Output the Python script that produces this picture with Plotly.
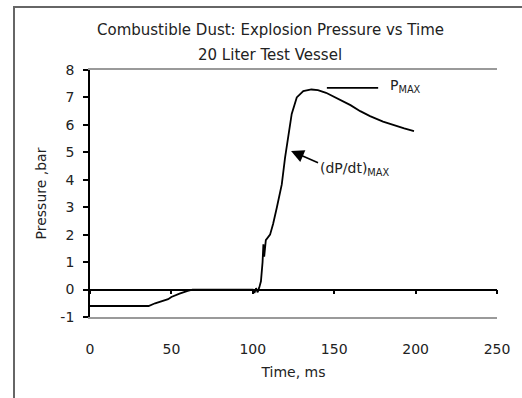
import plotly.graph_objects as go

# ---- data ----
time_ms = [0, 36, 40, 45, 48, 50, 52, 55, 60, 63, 100, 101, 102, 103, 104, 105,
           106, 106.5, 107, 108, 110.6, 112.5, 114.7, 117.8, 119.8, 121.8, 123.9,
           127, 131, 136, 140, 145, 150, 155, 160, 166, 172, 180, 186, 193, 199]
pressure_bar = [-0.6, -0.6, -0.5, -0.42, -0.35, -0.27, -0.22, -0.15, -0.05, 0, 0,
                -0.12, 0.05, -0.1, 0.08, 0.3, 1.0, 1.65, 1.2, 1.8, 2.0, 2.4, 2.97,
                3.83, 4.8, 5.57, 6.4, 7.0, 7.23, 7.29, 7.27, 7.17, 7.02, 6.87,
                6.72, 6.5, 6.32, 6.12, 6.0, 5.87, 5.77]
x_ticks = [0, 50, 100, 150, 200, 250]
y_ticks = [-1, 0, 1, 2, 3, 4, 5, 6, 7, 8]
y_tick_labels = ["-1", "0", "1", "2", "3", "4", "5", "6", "7", "8"]
pmax_line_x = [145.5, 177]
pmax_level = 7.35
dpdt_point = (123.5, 5.05)
dpdt_tail = (141, 4.6)

FONT = "DejaVu Sans"
TXT = "#222222"

fig = go.Figure()
fig.add_trace(go.Scatter(x=time_ms, y=pressure_bar, mode="lines",
                         line=dict(color="black", width=1.8), showlegend=False,
                         hoverinfo="skip"))
# zero-line axis with ticks
fig.add_trace(go.Scatter(x=[0, 250], y=[0, 0], xaxis="x2", mode="lines",
                         line=dict(color="rgba(0,0,0,0)"), showlegend=False,
                         hoverinfo="skip"))

W, H = 522, 398
L, R, T, B = 90, 25, 70, 81
pw, ph = W - L - R, H - T - B

def px2paper_x(px):
    return (px - L) / pw

def py2paper_y(py):
    return (H - B - py) / ph

fig.update_layout(
    width=W, height=H,
    margin=dict(l=L, r=R, t=T, b=B, autoexpand=False),
    paper_bgcolor="white", plot_bgcolor="white",
    font=dict(family=FONT, size=14, color=TXT),
    xaxis=dict(range=[0, 250], tickvals=x_ticks, ticks="", showgrid=False,
               zeroline=False, showline=True, linecolor="#9a9a9a", linewidth=1.5,
               mirror=True, tickfont=dict(size=14, color=TXT), ticklabelstandoff=18,
               title=dict(text="Time, ms", font=dict(size=14, color=TXT), standoff=12)),
    xaxis2=dict(range=[0, 250], overlaying="x", anchor="free",
                position=1 / 9, tickvals=x_ticks, ticks="outside", ticklen=4,
                tickwidth=1.5, tickcolor="black", showticklabels=False,
                showline=True, linecolor="black", linewidth=1.8, showgrid=False,
                zeroline=False),
    yaxis=dict(range=[-1, 8], tickvals=y_ticks, ticktext=y_tick_labels,
               ticks="outside", ticklen=5,
               tickwidth=1.5, tickcolor="black", showgrid=False, zeroline=False,
               showline=True, linecolor="black", linewidth=1.8,
               tickfont=dict(size=14, color=TXT), ticklabelstandoff=6,
               title=dict(text="Pressure ,bar", font=dict(size=14, color=TXT), standoff=10)),
    annotations=[
        dict(text="Combustible Dust: Explosion Pressure vs Time", xref="paper",
             yref="paper", x=px2paper_x(270), y=py2paper_y(30), showarrow=False,
             font=dict(size=15, color=TXT), xanchor="center", yanchor="middle"),
        dict(text="20 Liter Test Vessel", xref="paper", yref="paper",
             x=px2paper_x(270), y=py2paper_y(55), showarrow=False,
             font=dict(size=15, color=TXT), xanchor="center", yanchor="middle"),
        dict(text="P<sub>MAX</sub>", x=pmax_line_x[1] + 6, y=pmax_level + 0.05,
             xref="x", yref="y", showarrow=False, xanchor="left", yanchor="middle",
             font=dict(size=14, color=TXT)),
        dict(text="", x=dpdt_point[0], y=dpdt_point[1], ax=dpdt_tail[0],
             ay=dpdt_tail[1], axref="x", ayref="y", xref="x", yref="y",
             showarrow=True, arrowhead=2, arrowsize=1.6, arrowwidth=1.6,
             arrowcolor="black"),
        dict(text="(dP/dt)<sub>MAX</sub>", x=dpdt_tail[0] - 1, y=dpdt_tail[1] - 0.2,
             xref="x", yref="y", showarrow=False, xanchor="left", yanchor="middle",
             font=dict(size=14, color=TXT)),
    ],
    shapes=[
        dict(type="line", xref="x", yref="y", x0=pmax_line_x[0], x1=pmax_line_x[1],
             y0=pmax_level, y1=pmax_level, line=dict(color="black", width=1.6)),
        # outer chart frame
        dict(type="line", xref="paper", yref="paper", x0=px2paper_x(14),
             x1=px2paper_x(14), y0=py2paper_y(6), y1=py2paper_y(400),
             line=dict(color="#666666", width=2)),
        dict(type="line", xref="paper", yref="paper", x0=px2paper_x(13),
             x1=px2paper_x(524), y0=py2paper_y(7), y1=py2paper_y(7),
             line=dict(color="#666666", width=2)),
    ],
)

fig.write_html("out.html", config={"displayModeBar": False},
               post_script="document.body.style.margin='0';document.body.style.overflow='hidden';")
